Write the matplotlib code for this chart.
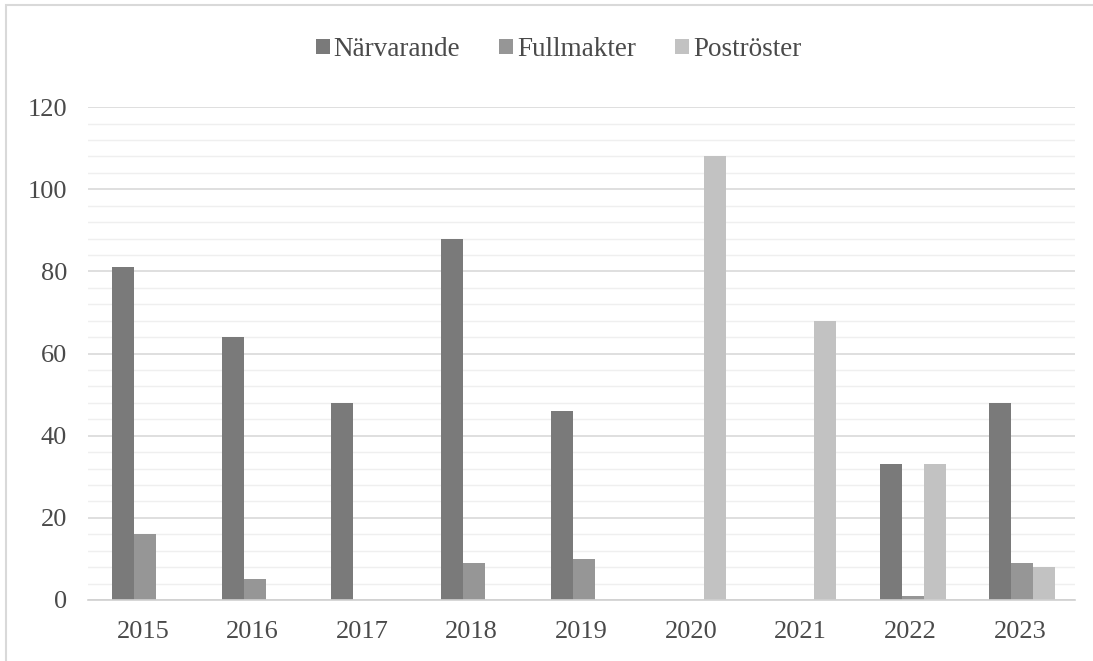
import matplotlib.pyplot as plt
import numpy as np
from matplotlib.patches import Rectangle
from matplotlib.ticker import MultipleLocator

years = ["2015", "2016", "2017", "2018", "2019", "2020", "2021", "2022", "2023"]
narvarande = [81, 64, 48, 88, 46, 0, 0, 33, 48]
fullmakter = [16, 5, 0, 9, 10, 0, 0, 1, 9]
postroster = [0, 0, 0, 0, 0, 108, 68, 33, 8]

series = [("Närvarande", narvarande, "#7a7a7a"),
          ("Fullmakter", fullmakter, "#969696"),
          ("Poströster", postroster, "#c2c2c2")]

plt.rcParams['font.family'] = ['Liberation Serif', 'DejaVu Serif']

fig = plt.figure(figsize=(10.93, 6.61), dpi=100)
ax = fig.add_axes([0.0805, 0.0923, 0.903, 0.7457])

x = np.arange(len(years))
w = 0.2
for i, (name, vals, col) in enumerate(series):
    ax.bar(x + (i - 1) * w + 0.02, vals, w, color=col, label=name, zorder=3)

ax.set_xlim(-0.5, len(years) - 0.5)
ax.set_ylim(0, 120)
ax.yaxis.set_major_locator(MultipleLocator(20))
ax.yaxis.set_minor_locator(MultipleLocator(4))
ax.grid(which='major', axis='y', color='#d9d9d9', linewidth=1.2, zorder=0)
ax.grid(which='minor', axis='y', color='#efefef', linewidth=1.0, zorder=0)
ax.set_xticks(x)
ax.set_xticklabels(years)
ax.tick_params(which='both', length=0, labelsize=19, colors='#4a4a4a')
ax.tick_params(axis='x', pad=15)
ax.tick_params(axis='y', pad=15)
for s in ['top', 'right', 'left']:
    ax.spines[s].set_visible(False)
ax.spines['bottom'].set_color('#d0d0d0')
ax.spines['bottom'].set_linewidth(1.2)
ax.spines['bottom'].set_zorder(4)

fig.legend(loc='center', bbox_to_anchor=(0.511, 0.925), ncol=3, frameon=False,
           fontsize=19.5, handlelength=0.5, handleheight=0.5, handletextpad=0.15,
           columnspacing=1.45, labelcolor='#4a4a4a')

fig.patches.append(Rectangle((6 / 1093, -0.05), 1.1, 1 - 5 / 661 + 0.05,
                             transform=fig.transFigure, fill=False,
                             edgecolor='#d9d9d9', linewidth=1.5))

fig.savefig("out.png", dpi=100)
